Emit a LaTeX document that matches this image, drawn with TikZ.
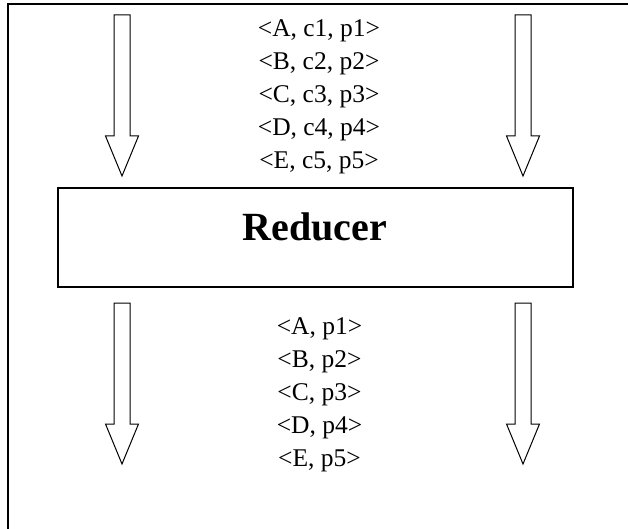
\documentclass[tikz,border=0pt]{standalone}
\usepackage{fontspec}
\setmainfont{Liberation Serif}
\usetikzlibrary{positioning}

\tikzset{
  pair/.style={font=\fontsize{25.5}{28}\selectfont, inner sep=0pt, anchor=base},
  hollowdown/.pic={
    \draw[line width=1pt, line join=miter]
      (-8,0) -- (8,0) -- (8,121) -- (16.5,121) -- (0,161)
      -- (-16.5,121) -- (-8,121) -- cycle;
  }
}

\begin{document}
\begin{tikzpicture}[x=1pt, y=-1pt]

\useasboundingbox (0,0) rectangle (628,529);

% Frame
\draw[line width=1.4pt] (8,529) -- (8,4) -- (628,4);

% Reducer box
\node[draw, line width=1.2pt, minimum width=515pt, minimum height=99pt,
      inner sep=0pt] (reducer) at (315.5,237.5) {};
\node[font=\fontsize{40}{44}\selectfont\bfseries, inner sep=0pt, anchor=base]
  (rname) at (315,240) {Reducer};

% Arrows into and out of the reducer
\pic at (122,15) {hollowdown};
\pic at (523,15) {hollowdown};
\pic at (122,303) {hollowdown};
\pic at (523,303) {hollowdown};

% Input records
\foreach \k [count=\i] in {A,B,C,D,E}
  \node[pair] (in\i) at (319,{37+33*(\i-1)}) {<\k, c\i, p\i>};

% Output records
\foreach \k [count=\i] in {A,B,C,D,E}
  \node[pair] (out\i) at (319.5,{334+33*(\i-1)}) {<\k, p\i>};

\end{tikzpicture}
\end{document}
